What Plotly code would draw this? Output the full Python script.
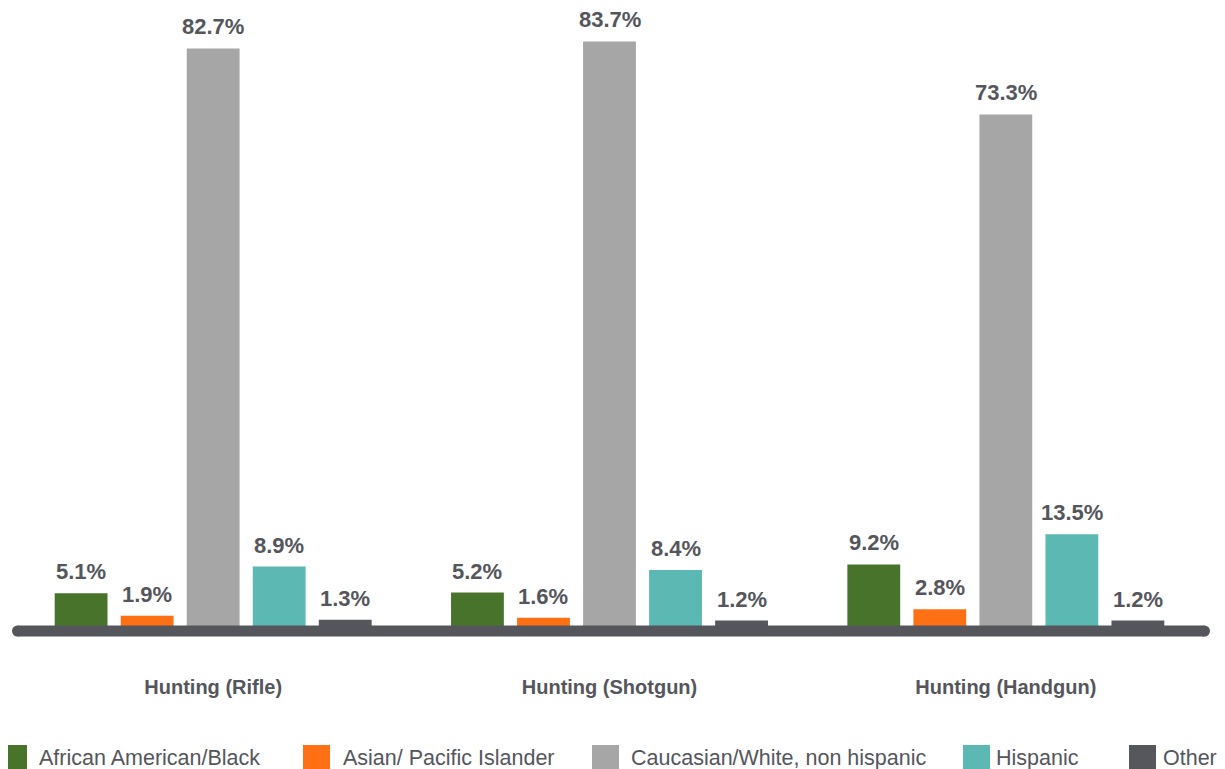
import plotly.graph_objects as go

# ---- data ----
categories = ["Hunting (Rifle)", "Hunting (Shotgun)", "Hunting (Handgun)"]
series_names = ["African American/Black", "Asian/ Pacific Islander",
                "Caucasian/White, non hispanic", "Hispanic", "Other"]
african_american = [5.1, 5.2, 9.2]
asian_pacific = [1.9, 1.6, 2.8]
caucasian = [82.7, 83.7, 73.3]
hispanic = [8.9, 8.4, 13.5]
other = [1.3, 1.2, 1.2]
series_values = [african_american, asian_pacific, caucasian, hispanic, other]

# ---- styles ----
colors = ["#47742a", "#ff6f14", "#a6a6a6", "#5bb8b2", "#55575d"]
text_color = "#54565c"
OFF = 8  # page body margin offset
W, H = 1225 - OFF, 769 - OFF
ML, MR, MT, MB = 15 - OFF, 21, 10 - OFF, 140
PW, PH = W - ML - MR, H - MT - MB
PX_PER_UNIT = 7.02
YMAX = PH / PX_PER_UNIT
BARGAP = 0.167
FONT = "Liberation Sans, Arial, sans-serif"


def px_to_paper_x(px):
    # px given in reference page pixels
    return (px - OFF - ML) / PW


def px_to_paper_y(py):
    return (H - MB - (py - OFF)) / PH


fig = go.Figure()
n = len(series_names)
for name, vals, col in zip(series_names, series_values, colors):
    fig.add_trace(go.Bar(
        x=list(range(len(categories))), y=vals, name=name,
        marker=dict(color=col, line=dict(width=0)),
        showlegend=False, hoverinfo="skip",
    ))

# value labels
pitch = (1 - BARGAP) / n
annotations = []
for si, vals in enumerate(series_values):
    for ci, v in enumerate(vals):
        annotations.append(dict(
            x=ci + (si - (n - 1) / 2) * pitch, y=v, xref="x", yref="y",
            text=f"{v:.1f}%", showarrow=False, yanchor="bottom", yshift=7,
            font=dict(family=FONT, size=22, color=text_color, weight="bold"),
        ))

# custom legend
legend_square_px = [0, 303, 592, 963, 1129]
legend_text_px = [37, 341, 629, 994, 1161]
shapes = []
for name, col, sx, tx in zip(series_names, colors, legend_square_px, legend_text_px):
    shapes.append(dict(
        type="rect", xref="paper", yref="paper",
        x0=px_to_paper_x(sx), x1=px_to_paper_x(sx + 27),
        y0=px_to_paper_y(772), y1=px_to_paper_y(745),
        fillcolor=col, line=dict(width=0), layer="above",
    ))
    annotations.append(dict(
        x=px_to_paper_x(tx), y=px_to_paper_y(758), xref="paper", yref="paper",
        text=name, showarrow=False, xanchor="left", yanchor="middle",
        font=dict(family=FONT, size=21.5, color=text_color),
    ))

# baseline with rounded ends
base_y = px_to_paper_y(631)
bx0, bx1 = px_to_paper_x(17.5), px_to_paper_x(1204.5)
shapes.append(dict(type="line", xref="paper", yref="paper", x0=bx0, x1=bx1,
                   y0=base_y, y1=base_y, line=dict(color=text_color, width=11),
                   layer="above"))
for bx in (bx0, bx1):
    shapes.append(dict(type="circle", xref="paper", yref="paper",
                       xsizemode="pixel", ysizemode="pixel",
                       xanchor=bx, yanchor=base_y,
                       x0=-5.5, x1=5.5, y0=-5.5, y1=5.5,
                       fillcolor=text_color, line=dict(width=0), layer="above"))

fig.update_layout(
    width=W, height=H,
    margin=dict(l=ML, r=MR, t=MT, b=MB),
    paper_bgcolor="white", plot_bgcolor="white",
    barmode="group", bargap=BARGAP, bargroupgap=0.2,
    xaxis=dict(tickmode="array", tickvals=list(range(len(categories))),
               ticktext=categories, range=[-0.5, len(categories) - 0.5],
               showgrid=False, zeroline=False, showline=False, ticks="",
               ticklabelstandoff=44,
               tickfont=dict(family=FONT, size=20, color=text_color, weight="bold")),
    yaxis=dict(range=[0, YMAX], visible=False, showgrid=False, zeroline=False),
    annotations=annotations, shapes=shapes,
    showlegend=False,
)

fig.write_html("out.html")
